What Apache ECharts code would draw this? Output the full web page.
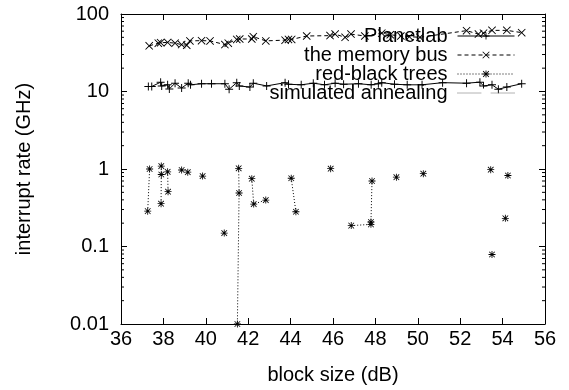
<!DOCTYPE html>
<html>
<head>
<meta charset="utf-8">
<script src="https://cdn.jsdelivr.net/npm/echarts@6/dist/echarts.min.js"></script>
<style>
  html, body { margin: 0; padding: 0; background: #fff; }
  #main { width: 569px; height: 390px; }
</style>
</head>
<body>
<div id="main"></div>
<script>
// Planetlab (solid, +)
const planetX = [37.29, 37.45, 37.87, 37.92, 38.2, 38.28, 38.55, 38.86, 39.17, 39.28, 39.8, 40.27, 40.9, 41.1, 41.46, 41.58, 42.08, 42.24, 42.87, 43.74, 43.9, 44.5, 45.07, 45.6, 46.1, 46.5, 47.2, 47.8, 48.14, 48.3, 48.9, 49.5, 50.2, 51.17, 52.3, 52.93, 53.1, 53.5, 53.8, 54.2, 54.9];
const planetY = [11.6, 11.6, 13.2, 11.8, 12.2, 10.8, 12.8, 11.1, 12.8, 12.2, 12.6, 12.6, 12.6, 10.7, 13, 11.8, 11.4, 12.8, 11.8, 13, 12.4, 12.2, 12.8, 12.2, 12.8, 12.4, 12.6, 12.2, 12.6, 13, 12.4, 12.2, 12.2, 13, 12.8, 13.2, 11.8, 12.2, 10.7, 11.4, 12.6];

// the memory bus (dashed, x)
const busX = [37.33, 37.76, 37.87, 38.2, 38.55, 38.86, 39.1, 39.25, 39.8, 40.2, 40.9, 41.06, 41.46, 41.6, 42.17, 42.24, 42.83, 43.74, 43.9, 44.05, 44.76, 45.86, 46.1, 46.57, 46.85, 47.5, 48.3, 48.7, 49.2, 49.6, 50.1, 52.3, 52.86, 53.1, 53.5, 54.2, 54.9];
const busY = [38.8, 42, 42.6, 43, 42, 40.3, 39.5, 45, 45.3, 45, 40.3, 42, 47, 47.6, 47.6, 51, 45, 46, 47, 47, 52, 52.6, 55, 50, 55, 52, 56.6, 54, 52, 51, 50, 61, 55, 56.6, 61.5, 61.5, 57.5];

// red-black trees (dotted, *), null = break in the line
const rbtX = [37.26, 37.35, null, 37.9, 37.9, 37.89, null, 38.2, 38.22, null, 38.86, null, 39.15, null, 39.85, null, 40.87, null, 41.55, 41.57, 41.49, null, 42.17, 42.26, 42.83, null, 44.03, 44.25, null, 45.89, null, 46.86, 47.79, 47.79, 47.84, null, 48.99, null, 50.26, null, 53.44, null, 53.5, null, 54.13, null, 54.25];
const rbtY = [0.286, 1.0, null, 1.09, 0.85, 0.357, null, 0.92, 0.51, null, 0.97, null, 0.91, null, 0.81, null, 0.149, null, 1.02, 0.49, 0.01, null, 0.75, 0.353, 0.397, null, 0.76, 0.281, null, 1.01, null, 0.186, 0.193, 0.207, 0.70, null, 0.785, null, 0.87, null, 0.98, null, 0.0788, null, 0.231, null, 0.825];

// simulated annealing: nothing visible inside the plot
const annealX = [];
const annealY = [];

const xTicks = [36, 38, 40, 42, 44, 46, 48, 50, 52, 54, 56];
const yTicks = [0.01, 0.1, 1, 10, 100];

const pairs = (xs, ys) => xs.map((x, i) => (x == null || ys[i] == null) ? ['-', '-'] : [x, ys[i]]);

// log minor ticks 2..9 of each decade
const minorY = [];
for (let d = 0; d < yTicks.length - 1; d++) {
  for (let k = 2; k <= 9; k++) minorY.push(+(yTicks[d] * k).toPrecision(3));
}

const FONT = 'Liberation Sans';
const plusPath = 'path://M4.4,0H5.6V4.4H10V5.6H5.6V10H4.4V5.6H0V4.4H4.4Z';
const crossPath = 'path://M0.8,0L5,4.2L9.2,0L10,0.8L5.8,5L10,9.2L9.2,10L5,5.8L0.8,10L0,9.2L4.2,5L0,0.8Z';
const starPath = 'path://M4.4,0H5.6V3.6L8.6,0.6L9.4,1.4L6.4,4.4H10V5.6H6.4L9.4,8.6L8.6,9.4L5.6,6.4V10H4.4V6.4L1.4,9.4L0.6,8.6L3.6,5.6H0V4.4H3.6L0.6,1.4L1.4,0.6L4.4,3.6Z';

const chart = echarts.init(document.getElementById('main'));
const axisCommon = {
  axisLine: { show: true, onZero: false, lineStyle: { color: '#000', width: 1 } },
  splitLine: { show: false }
};
chart.setOption({
  animation: false,
  textStyle: { fontFamily: FONT },
  grid: { left: 121, right: 24, top: 14, bottom: 65 },
  legend: {
    data: ['Planetlab', 'the memory bus', 'red-black trees', 'simulated annealing'],
    orient: 'vertical',
    right: 49,
    top: 21,
    align: 'right',
    itemWidth: 57,
    itemHeight: 9,
    itemGap: -1,
    lineStyle: { width: 1 },
    textStyle: { fontFamily: FONT, fontSize: 20, color: '#000', lineHeight: 19, padding: [0, 5, 0, 0] }
  },
  xAxis: [
    Object.assign({
      type: 'value', min: 36, max: 56, interval: 2, position: 'bottom',
      name: 'block size (dB)', nameLocation: 'middle', nameGap: 41,
      nameTextStyle: { fontFamily: FONT, fontSize: 20, color: '#000' },
      axisTick: { show: true, inside: true, length: 6, lineStyle: { color: '#000' } },
      axisLabel: { margin: 5, fontSize: 20, color: '#000', fontFamily: FONT }
    }, axisCommon),
    Object.assign({
      type: 'value', min: 36, max: 56, interval: 2, position: 'top',
      axisTick: { show: true, inside: true, length: 6, lineStyle: { color: '#000' } },
      axisLabel: { show: false }
    }, axisCommon)
  ],
  yAxis: [
    Object.assign({
      type: 'log', logBase: 10, min: yTicks[0], max: yTicks[yTicks.length - 1], interval: 1,
      position: 'left',
      name: 'interrupt rate (GHz)', nameLocation: 'middle', nameGap: 87,
      nameTextStyle: { fontFamily: FONT, fontSize: 20, color: '#000' },
      axisTick: { show: true, inside: true, length: 6, lineStyle: { color: '#000' } },
      axisLabel: { margin: 12, fontSize: 20, color: '#000', fontFamily: FONT,
        formatter: v => String(+v.toPrecision(3)) }
    }, axisCommon),
    Object.assign({
      type: 'log', logBase: 10, min: yTicks[0], max: yTicks[yTicks.length - 1], interval: 1,
      position: 'right',
      axisTick: { show: true, inside: true, length: 6, lineStyle: { color: '#000' } },
      axisLabel: { show: false }
    }, axisCommon)
  ],
  series: [
    {
      name: 'Planetlab', type: 'line', data: pairs(planetX, planetY),
      symbol: plusPath, symbolSize: 8,
      itemStyle: { color: '#000' },
      lineStyle: { color: '#000', width: 1 },
      connectNulls: false
    },
    {
      name: 'the memory bus', type: 'line', data: pairs(busX, busY),
      symbol: crossPath, symbolSize: 8,
      itemStyle: { color: '#000' },
      lineStyle: { color: '#000', width: 1, type: [4, 3] },
      connectNulls: false
    },
    {
      name: 'red-black trees', type: 'line', data: pairs(rbtX, rbtY),
      symbol: starPath, symbolSize: 7,
      itemStyle: { color: '#000' },
      lineStyle: { color: '#000', width: 1, type: [1, 2] },
      connectNulls: false
    },
    {
      name: 'simulated annealing', type: 'line', data: pairs(annealX, annealY),
      symbol: 'emptyRect', symbolSize: 7,
      itemStyle: { color: '#fff', borderColor: '#333', borderWidth: 1 },
      lineStyle: { color: '#666', width: 1, type: [1, 1] }
    },
    {
      name: 'minor', type: 'custom', silent: true,
      data: minorY.map(v => [v]),
      encode: { y: 0 },
      renderItem: function (params, api) {
        const v = api.value(0);
        const l = api.coord([36, v]);
        const r = api.coord([56, v]);
        return {
          type: 'group',
          children: [
            { type: 'line', shape: { x1: l[0], y1: l[1], x2: l[0] + 3, y2: l[1] }, style: { stroke: '#000', lineWidth: 1 } },
            { type: 'line', shape: { x1: r[0], y1: r[1], x2: r[0] - 3, y2: r[1] }, style: { stroke: '#000', lineWidth: 1 } }
          ]
        };
      }
    }
  ]
});
</script>
</body>
</html>
